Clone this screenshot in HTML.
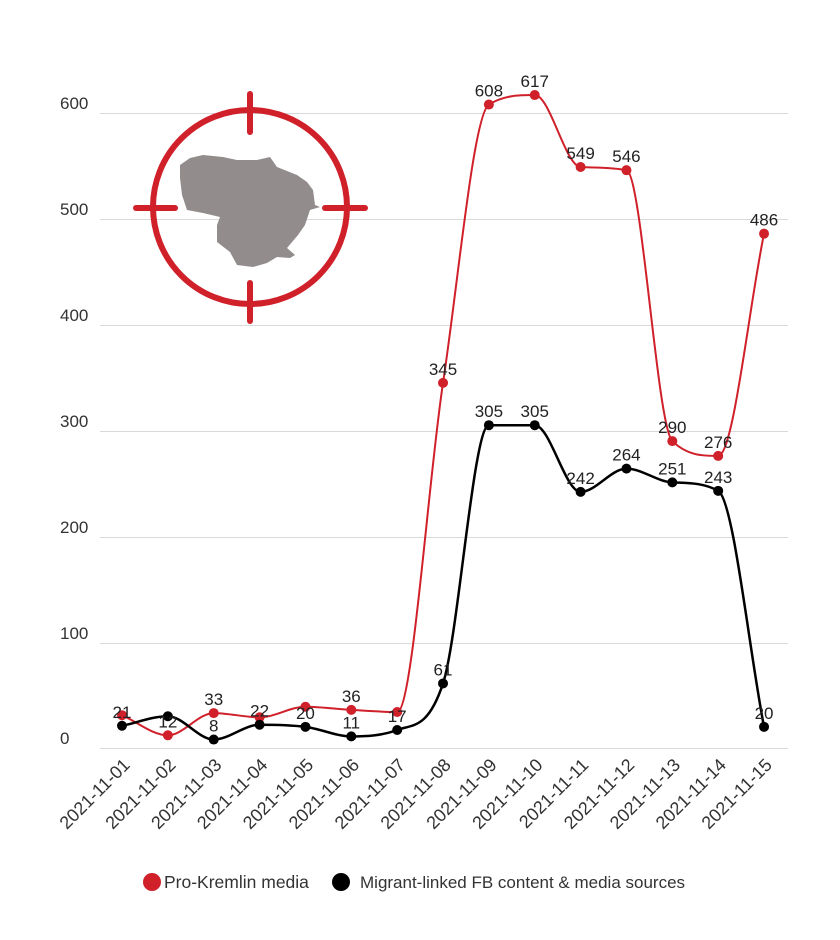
<!DOCTYPE html>
<html><head><meta charset="utf-8"><style>
body{margin:0;background:#fff;}
svg text{font-family:"Liberation Sans",sans-serif;}
</style></head><body>
<svg id="s" width="840" height="935" viewBox="0 0 840 935" xmlns="http://www.w3.org/2000/svg">
<g stroke="#d9d9d9" stroke-width="1">
<line x1="100" y1="113.5" x2="788" y2="113.5"/><line x1="100" y1="219.5" x2="788" y2="219.5"/>
<line x1="100" y1="325.5" x2="788" y2="325.5"/><line x1="100" y1="431.5" x2="788" y2="431.5"/>
<line x1="100" y1="537.5" x2="788" y2="537.5"/><line x1="100" y1="643.5" x2="788" y2="643.5"/>
<line x1="100" y1="748.5" x2="788" y2="748.5"/>
</g>
<g font-size="17" fill="#333">
<text x="60" y="109">600</text><text x="60" y="215">500</text><text x="60" y="321">400</text>
<text x="60" y="427">300</text><text x="60" y="533">200</text><text x="60" y="639">100</text><text x="60" y="744">0</text>
</g>
<g>
<polygon fill="#928c8c" points="180,165 190,158 203,155 223,157 237,160 257,160 270,157 277,167 297,175 307,182 313,190 315,205 320,207 310,210 305,225 298,235 287,248 295,255 290,258 277,257 267,263 253,267 237,265 230,252 217,242 217,225 220,217 203,213 187,210 182,195 180,178"/>
<circle cx="250" cy="207" r="97" fill="none" stroke="#d0202a" stroke-width="6"/>
<g stroke="#d0202a" stroke-width="6" stroke-linecap="round">
<line x1="250" y1="94" x2="250" y2="132"/><line x1="250" y1="283" x2="250" y2="321"/>
<line x1="136" y1="208" x2="175" y2="208"/><line x1="325" y1="208" x2="365" y2="208"/>
</g></g>
<g id="plot"></g>
<circle cx="152" cy="882" r="9" fill="#d0202a"/>
<text x="164" y="888" font-size="17.5" fill="#333">Pro-Kremlin media</text>
<circle cx="341" cy="882" r="9" fill="#000"/>
<text x="360" y="888" font-size="17" fill="#333">Migrant-linked FB content &amp; media sources</text>
</svg>
<script>
var red=[31,12,33,29,39,36,34,345,608,617,549,546,290,276,486];
var blk=[21,30,8,22,20,11,17,61,305,305,242,264,251,243,20];
var redL=[null,12,33,null,null,36,null,345,608,617,549,546,290,276,486];
var blkL=[21,null,8,22,20,11,17,61,305,305,242,264,251,243,20];
function X(i){return 122+i*45.86}function Y(v){return 748-v*1.0583}
function path(d){var p=d.map(function(v,i){return[X(i),Y(v)]});var n=p.length,m=[],dl=[];
for(var i=0;i<n-1;i++)dl.push((p[i+1][1]-p[i][1])/(p[i+1][0]-p[i][0]));
m[0]=dl[0];m[n-1]=dl[n-2];for(i=1;i<n-1;i++){m[i]=dl[i-1]*dl[i]<=0?0:(dl[i-1]+dl[i])/2;}
for(i=0;i<n-1;i++){if(dl[i]==0){m[i]=m[i+1]=0;continue;}var a=m[i]/dl[i],b=m[i+1]/dl[i],s=a*a+b*b;if(s>9){var t=3/Math.sqrt(s);m[i]=t*a*dl[i];m[i+1]=t*b*dl[i];}}
var s="M"+p[0][0]+","+p[0][1];for(i=0;i<n-1;i++){var h=(p[i+1][0]-p[i][0])/3;
s+=" C"+(p[i][0]+h)+","+(p[i][1]+m[i]*h)+" "+(p[i+1][0]-h)+","+(p[i+1][1]-m[i+1]*h)+" "+p[i+1][0]+","+p[i+1][1];}return s;}
var g="";
g+='<path d="'+path(red)+'" fill="none" stroke="#d0202a" stroke-width="2"/>';
g+='<path d="'+path(blk)+'" fill="none" stroke="#000" stroke-width="2.5"/>';
red.forEach(function(v,i){g+='<circle cx="'+X(i)+'" cy="'+Y(v)+'" r="5" fill="#d0202a"/>';});
blk.forEach(function(v,i){g+='<circle cx="'+X(i)+'" cy="'+Y(v)+'" r="5" fill="#000"/>';});
function lab(L,d){L.forEach(function(v,i){if(v==null)return;g+='<text x="'+X(i)+'" y="'+(Y(d[i])-8)+'" font-size="17" fill="#222" text-anchor="middle">'+v+'</text>';});}
lab(redL,red);lab(blkL,blk);
for(var i=0;i<15;i++){var x=X(i)+9,y=766;g+='<text font-size="18" fill="#333" text-anchor="end" transform="translate('+x+','+y+') rotate(-45)">2021-11-'+(i<9?"0":"")+(i+1)+'</text>';}
document.getElementById("plot").innerHTML=g;
</script>
</body></html>
